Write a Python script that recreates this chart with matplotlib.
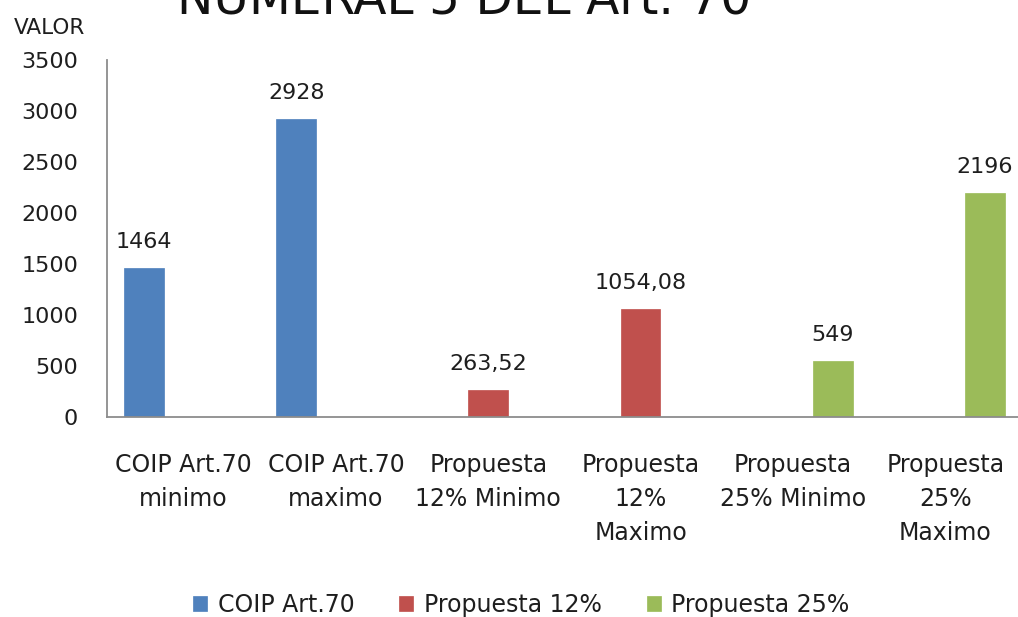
import numpy as np
import matplotlib
matplotlib.use("Agg")
import matplotlib.pyplot as plt

categories = ["COIP Art.70\nminimo", "COIP Art.70\nmaximo", "Propuesta\n12% Minimo",
              "Propuesta\n12%\nMaximo", "Propuesta\n25% Minimo", "Propuesta\n25%\nMaximo"]
series_names = ["COIP Art.70", "Propuesta 12%", "Propuesta 25%"]
coip = [1464, 2928, np.nan, np.nan, np.nan, np.nan]
prop12 = [np.nan, np.nan, 263.52, 1054.08, np.nan, np.nan]
prop25 = [np.nan, np.nan, np.nan, np.nan, 549, 2196]
colors = ["#4F81BD", "#C0504D", "#9BBB59"]
yticks = [0, 500, 1000, 1500, 2000, 2500, 3000, 3500]
title = "NUMERAL 5 DEL Art. 70"
ylabel = "VALOR"

plt.rcParams['font.family'] = ['DejaVu Sans']
fig = plt.figure(figsize=(10.18, 6.17), dpi=100)
ax = fig.add_axes([0.1054, 0.3246, 0.8982, 0.5774])

x = np.arange(len(categories))
width = 0.26
txtcol = "#1e1e1e"

def fmt(v):
    if float(v).is_integer():
        return str(int(v))
    return f"{v:.2f}".replace(".", ",")

for i, (vals, name, col) in enumerate(zip([coip, prop12, prop25], series_names, colors)):
    vals = np.array(vals, dtype=float)
    pos = x + (i - 1) * width
    ax.bar(pos, vals, width=width, color=col, label=name, edgecolor=col, linewidth=0.5)
    for p, v in zip(pos, vals):
        if not np.isnan(v):
            ax.annotate(fmt(v), (p, v), xytext=(0, 14.4), textcoords="offset points",
                        ha="center", va="baseline", fontsize=16, color=txtcol)

ax.set_xlim(-0.5, len(categories) - 0.5)
ax.set_ylim(0, 3500)
ax.set_yticks(yticks)
ax.set_yticklabels([str(t) for t in yticks], fontsize=16, color=txtcol)
ax.set_xticks(x)
ax.set_xticklabels(categories, fontsize=17, color=txtcol, linespacing=1.52)
ax.tick_params(axis="y", length=0, pad=21)
ax.tick_params(axis="x", length=0, pad=26)
for s in ["top", "right"]:
    ax.spines[s].set_visible(False)
for s in ["left", "bottom"]:
    ax.spines[s].set_color("#8c8c8c")
    ax.spines[s].set_linewidth(1.3)

fig.text(0.456, 0.9757, title, ha="center", va="baseline", fontsize=35, color="#111111")
fig.text(0.014, 0.955, ylabel, ha="left", va="center", fontsize=15.5, color=txtcol)

fig.legend(loc="center", bbox_to_anchor=(0.512, 0.0194), ncol=3, frameon=False,
           fontsize=17, handlelength=0.6, handleheight=0.6, handletextpad=0.45,
           columnspacing=1.9, labelcolor=txtcol)

fig.savefig("out.png", dpi=100)
